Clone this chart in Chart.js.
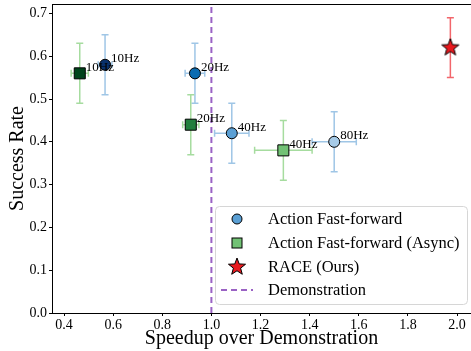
<!DOCTYPE html>
<html>
<head>
<meta charset="utf-8">
<script src="https://cdn.jsdelivr.net/npm/chart.js@4.4.0/dist/chart.umd.min.js"></script>
<style>
  html, body { margin: 0; padding: 0; background: #fff; }
  #wrap { width: 471px; height: 351px; }
</style>
</head>
<body>
<div id="wrap"><canvas id="graph" width="471" height="351"></canvas></div>
<script>
// Action Fast-forward (sync)
const fastX = [0.567, 0.933, 1.083, 1.50];
const fastY = [0.58, 0.56, 0.42, 0.40];
const fastXErr = [0.028, 0.04, 0.07, 0.09];
const fastYErr = [0.07, 0.07, 0.07, 0.07];
const fastLabels = ['10Hz', '20Hz', '40Hz', '80Hz'];

// Action Fast-forward (Async)
const asyncX = [0.464, 0.916, 1.293];
const asyncY = [0.56, 0.44, 0.38];
const asyncXErr = [0.035, 0.033, 0.117];
const asyncYErr = [0.07, 0.07, 0.07];
const asyncLabels = ['10Hz', '20Hz', '40Hz'];

// RACE (Ours)
const raceX = [1.973];
const raceY = [0.62];
const raceXErr = [0];
const raceYErr = [0.07];

const demoSpeedup = 1.0;

const xTicks = [0.4, 0.6, 0.8, 1.0, 1.2, 1.4, 1.6, 1.8, 2.0];
const yTicks = [0.0, 0.1, 0.2, 0.3, 0.4, 0.5, 0.6, 0.7];

const fastColors = ['#08306b', '#0b6cb2', '#5a9fd4', '#a6cbe8'];
const asyncColors = ['#00441b', '#217f3c', '#72c275'];
const serif = '"Liberation Serif", "DejaVu Serif", serif';

// filled star marker
const makeStar = (r, fill) => {
    const c = document.createElement('canvas');
    const s = Math.ceil(r * 2 + 4);
    c.width = s; c.height = s;
    const g = c.getContext('2d');
    g.beginPath();
    for (let i = 0; i < 10; i++) {
        const rad = i % 2 === 0 ? r : r * 0.42;
        const a = -Math.PI / 2 + i * Math.PI / 5;
        g.lineTo(s / 2 + rad * Math.cos(a), s / 2 + rad * Math.sin(a));
    }
    g.closePath();
    g.fillStyle = fill;
    g.fill();
    g.lineWidth = 1;
    g.strokeStyle = '#000';
    g.stroke();
    return c;
};
const starImg = makeStar(9, '#e8191e');

const pts = (xs, ys) => xs.map((x, i) => ({x: x, y: ys[i]}));

// error bars, labels, frame and legend
const extras = {
    id: 'extras',
    beforeDatasetsDraw(chart) {
        const g = chart.ctx, xs = chart.scales.x, ys = chart.scales.y;
        const bars = (xv, yv, xe, ye, color) => {
            g.save();
            g.strokeStyle = color;
            g.lineWidth = 1.5;
            const cap = 3.5;
            xv.forEach((x, i) => {
                const px = xs.getPixelForValue(x), py = ys.getPixelForValue(yv[i]);
                if (ye[i]) {
                    const t = ys.getPixelForValue(yv[i] + ye[i]), b = ys.getPixelForValue(yv[i] - ye[i]);
                    g.beginPath();
                    g.moveTo(px, t); g.lineTo(px, b);
                    g.moveTo(px - cap, t); g.lineTo(px + cap, t);
                    g.moveTo(px - cap, b); g.lineTo(px + cap, b);
                    g.stroke();
                }
                if (xe[i]) {
                    const l = xs.getPixelForValue(x - xe[i]), r = xs.getPixelForValue(x + xe[i]);
                    g.beginPath();
                    g.moveTo(l, py); g.lineTo(r, py);
                    g.moveTo(l, py - cap); g.lineTo(l, py + cap);
                    g.moveTo(r, py - cap); g.lineTo(r, py + cap);
                    g.stroke();
                }
            });
            g.restore();
        };
        bars(fastX, fastY, fastXErr, fastYErr, '#9fc6e6');
        bars(asyncX, asyncY, asyncXErr, asyncYErr, '#a6dc9f');
        bars(raceX, raceY, raceXErr, raceYErr, '#f2666b');
    },
    afterDatasetsDraw(chart) {
        const g = chart.ctx, xs = chart.scales.x, ys = chart.scales.y, a = chart.chartArea;
        g.save();
        g.font = '13px ' + serif;
        g.fillStyle = '#000';
        g.textBaseline = 'middle';
        const label = (xv, yv, names) => xv.forEach((x, i) => {
            g.fillText(names[i], xs.getPixelForValue(x) + 6, ys.getPixelForValue(yv[i]) - 6);
        });
        label(fastX, fastY, fastLabels);
        label(asyncX, asyncY, asyncLabels);

        // top spine (right spine falls outside the picture)
        g.strokeStyle = '#000';
        g.lineWidth = 1;
        g.beginPath();
        g.moveTo(a.left, a.top + 0.5);
        g.lineTo(a.right, a.top + 0.5);
        g.stroke();

        // legend
        const lx = 215, ly = 206, lw = 252, lh = 98;
        g.beginPath();
        g.roundRect(lx + 0.5, ly + 0.5, lw, lh, 4);
        g.fillStyle = 'rgba(255,255,255,0.85)';
        g.fill();
        g.strokeStyle = '#d6d6d6';
        g.stroke();
        const mx = 237, tx = 268, rows = [219, 243, 267, 290];
        g.font = '16.5px ' + serif;
        g.fillStyle = '#000';
        const names = ['Action Fast-forward', 'Action Fast-forward (Async)', 'RACE (Ours)', 'Demonstration'];
        names.forEach((n, i) => g.fillText(n, tx, rows[i] + 1));
        g.lineWidth = 1;
        g.strokeStyle = '#000';
        g.beginPath(); g.arc(mx, rows[0], 5, 0, Math.PI * 2);
        g.fillStyle = '#5a9fd4'; g.fill(); g.stroke();
        g.fillStyle = '#72c275';
        g.fillRect(mx - 5, rows[1] - 5, 10, 10); g.strokeRect(mx - 5, rows[1] - 5, 10, 10);
        g.drawImage(starImg, mx - starImg.width / 2, rows[2] - starImg.height / 2);
        g.strokeStyle = '#9a62c4';
        g.lineWidth = 2;
        g.setLineDash([6, 4]);
        g.beginPath(); g.moveTo(mx - 16, rows[3]); g.lineTo(mx + 16, rows[3]); g.stroke();
        g.restore();
    }
};

const noPad = s => { s.paddingLeft = 0; s.paddingRight = 0; s.paddingTop = 0; s.paddingBottom = 0; };

const ctx = document.getElementById('graph').getContext('2d');
const chart = new Chart(ctx, {
    type: 'scatter',
    data: {
        datasets: [{
            type: 'line',
            label: 'Demonstration',
            data: [{x: demoSpeedup, y: 0}, {x: demoSpeedup, y: 0.722}],
            borderColor: '#9a62c4',
            borderWidth: 2,
            borderDash: [6, 4],
            pointRadius: 0,
            order: 4
        }, {
            label: 'Action Fast-forward',
            data: pts(fastX, fastY),
            pointStyle: 'circle',
            pointRadius: 5.5,
            backgroundColor: fastColors,
            borderColor: '#000',
            borderWidth: 1,
            order: 2
        }, {
            label: 'Action Fast-forward (Async)',
            data: pts(asyncX, asyncY),
            pointStyle: 'rect',
            pointRadius: 7.8,
            backgroundColor: asyncColors,
            borderColor: '#000',
            borderWidth: 1,
            order: 3
        }, {
            label: 'RACE (Ours)',
            data: pts(raceX, raceY),
            pointStyle: starImg,
            order: 1
        }]
    },
    options: {
        responsive: false,
        animation: false,
        layout: { autoPadding: false, padding: { top: 4, right: 0, left: 0, bottom: 0 } },
        scales: {
            x: {
                min: 0.351, max: 2.057,
                afterBuildTicks: s => { s.ticks = xTicks.map(v => ({value: v})); },
                afterFit: s => { s.height = 38; noPad(s); },
                grid: { drawOnChartArea: false, tickLength: 3, color: '#000' },
                border: { color: '#000', width: 1 },
                ticks: { color: '#000', padding: 1, font: { family: serif, size: 14 }, callback: v => v.toFixed(1) },
                title: { display: true, text: 'Speedup over Demonstration', color: '#000', padding: { top: 0, bottom: 0 }, font: { family: serif, size: 20 } }
            },
            y: {
                min: 0, max: 0.722,
                afterBuildTicks: s => { s.ticks = yTicks.map(v => ({value: v})); },
                afterFit: s => { s.width = 52; noPad(s); },
                grid: { drawOnChartArea: false, tickLength: 3, color: '#000' },
                border: { color: '#000', width: 1 },
                ticks: { color: '#000', padding: 2, font: { family: serif, size: 14 }, callback: v => v.toFixed(1) },
                title: { display: true, text: 'Success Rate', color: '#000', padding: { top: 6, bottom: 0 }, font: { family: serif, size: 20 } }
            }
        },
        plugins: {
            legend: { display: false },
            tooltip: { enabled: false }
        }
    },
    plugins: [extras]
});
</script>
</body>
</html>
